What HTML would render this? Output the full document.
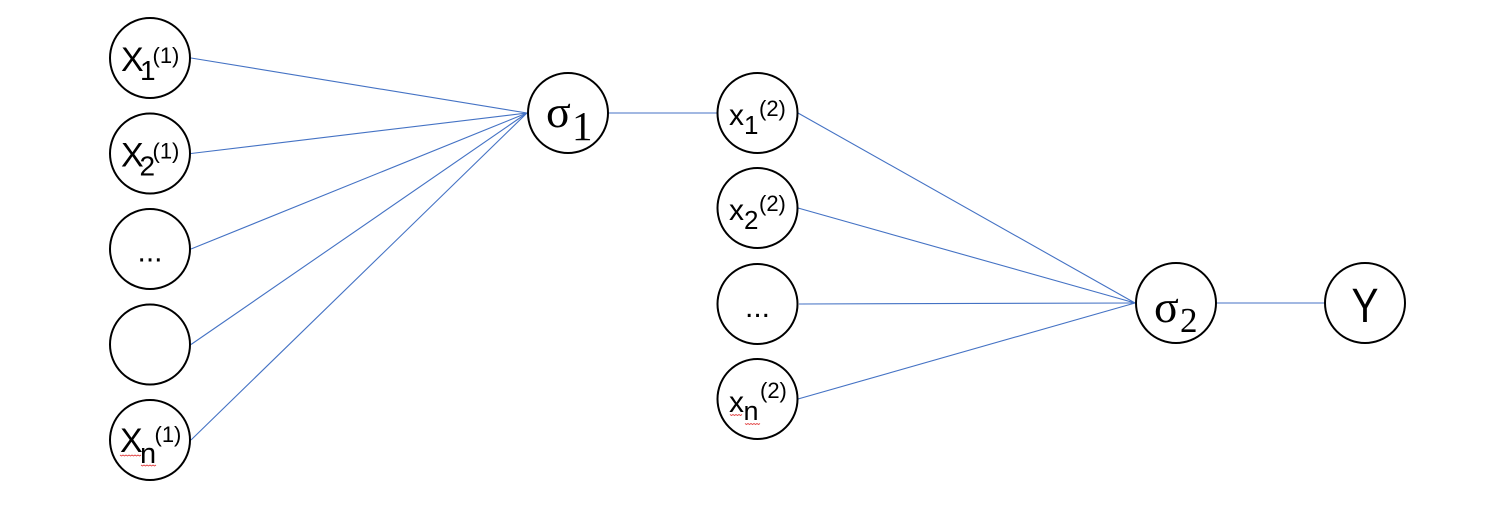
<!DOCTYPE html>
<html>
<head>
<meta charset="utf-8">
<style>
  html, body { margin: 0; padding: 0; background: #ffffff; }
  svg { display: block; }
  .sans { font-family: "Liberation Sans", Arial, sans-serif; fill: #000; }
  .serif { font-family: "Liberation Serif", "Times New Roman", serif; fill: #000; }
</style>
</head>
<body>
<svg width="1492" height="530" viewBox="0 0 1492 530" xmlns="http://www.w3.org/2000/svg">
  <rect width="1492" height="530" fill="#ffffff"/>

  <!-- connectors -->
  <g stroke="#4472C4" stroke-width="1.1" fill="none">
    <line x1="191" y1="58" x2="527" y2="113"/>
    <line x1="191" y1="153.5" x2="527" y2="113"/>
    <line x1="191" y1="249" x2="527" y2="113"/>
    <line x1="191" y1="344.5" x2="527" y2="113"/>
    <line x1="191" y1="440" x2="527" y2="113"/>
    <line x1="609" y1="113" x2="717" y2="113"/>
    <line x1="798" y1="113" x2="1135" y2="303"/>
    <line x1="798" y1="208" x2="1135" y2="303"/>
    <line x1="799" y1="304" x2="1135" y2="303"/>
    <line x1="798" y1="399" x2="1135" y2="303"/>
    <line x1="1217" y1="303" x2="1324" y2="303"/>
  </g>

  <!-- circles -->
  <g stroke="#000" stroke-width="2" fill="#fff">
    <circle cx="150" cy="58" r="40"/>
    <circle cx="150" cy="153.5" r="40"/>
    <circle cx="150" cy="249" r="40"/>
    <circle cx="150" cy="344.5" r="40"/>
    <circle cx="150" cy="440" r="40"/>
    <circle cx="568" cy="113" r="40"/>
    <circle cx="757.5" cy="113" r="40"/>
    <circle cx="757.5" cy="208" r="40"/>
    <circle cx="757.5" cy="304" r="40"/>
    <circle cx="757.5" cy="399" r="40"/>
    <circle cx="1176" cy="303" r="40"/>
    <circle cx="1365" cy="303" r="40"/>
  </g>

  <!-- Layer 1 labels -->
  <!-- X1(1) c=58 -->
  <text class="sans" x="121" y="71" font-size="34">X</text>
  <text class="sans" x="140" y="80" font-size="28">1</text>
  <text class="sans" x="152.5" y="63" font-size="22">(1)</text>
  <!-- X2(1) c=153.5 -->
  <text class="sans" x="121" y="166.5" font-size="34">X</text>
  <text class="sans" x="139.5" y="175.5" font-size="28">2</text>
  <text class="sans" x="152.5" y="158.5" font-size="22">(1)</text>
  <!-- ... c=249 -->
  <text class="sans" x="150" y="261.5" font-size="30" text-anchor="middle">...</text>
  <!-- Xn(1) c=440 -->
  <text class="sans" x="120" y="452" font-size="34">X</text>
  <text class="sans" x="140" y="463" font-size="29">n</text>
  <text class="sans" x="154.5" y="442" font-size="22">(1)</text>
  <g stroke="#e03a3a" stroke-width="0.9" fill="none">
    <path d="M120 455 l1.5 1 l1.5 -1 l1.5 1 l1.5 -1 l1.5 1 l1.5 -1 l1.5 1 l1.5 -1 l1.5 1 l1.5 -1 l1.5 1 l1.5 -1 l1.5 1 l1.5 -1"/>
    <path d="M141 465 l1.5 1 l1.5 -1 l1.5 1 l1.5 -1 l1.5 1 l1.5 -1 l1.5 1 l1.5 -1 l1.5 1 l1.5 -1"/>
  </g>

  <!-- sigma 1 -->
  <text class="serif" x="546" y="127" font-size="46">σ</text>
  <text class="serif" x="572" y="140" font-size="41">1</text>

  <!-- Layer 2 labels -->
  <!-- x1(2) c=113 -->
  <text class="sans" x="729" y="125" font-size="30">x</text>
  <text class="sans" x="744" y="134" font-size="26">1</text>
  <text class="sans" x="759" y="116" font-size="22">(2)</text>
  <!-- x2(2) c=208 -->
  <text class="sans" x="729" y="220" font-size="30">x</text>
  <text class="sans" x="744" y="229" font-size="26">2</text>
  <text class="sans" x="759" y="211" font-size="22">(2)</text>
  <!-- ... c=304 -->
  <text class="sans" x="757.5" y="317" font-size="30" text-anchor="middle">...</text>
  <!-- xn(2) c=399 -->
  <text class="sans" x="729" y="412" font-size="30">x</text>
  <text class="sans" x="743.5" y="420" font-size="27">n</text>
  <text class="sans" x="760" y="398" font-size="22">(2)</text>
  <g stroke="#e03a3a" stroke-width="0.9" fill="none">
    <path d="M730 414.5 l1.5 1 l1.5 -1 l1.5 1 l1.5 -1 l1.5 1 l1.5 -1 l1.5 1 l1.5 -1"/>
    <path d="M745 423.5 l1.5 1 l1.5 -1 l1.5 1 l1.5 -1 l1.5 1 l1.5 -1 l1.5 1 l1.5 -1 l1.5 1 l1.5 -1"/>
  </g>

  <!-- sigma 2 -->
  <text class="serif" x="1154" y="322" font-size="46">σ</text>
  <text class="serif" x="1180" y="332" font-size="35">2</text>

  <!-- Y -->
  <text class="sans" x="1365" y="322" font-size="48" text-anchor="middle" textLength="27" lengthAdjust="spacingAndGlyphs">Y</text>
</svg>
</body>
</html>
